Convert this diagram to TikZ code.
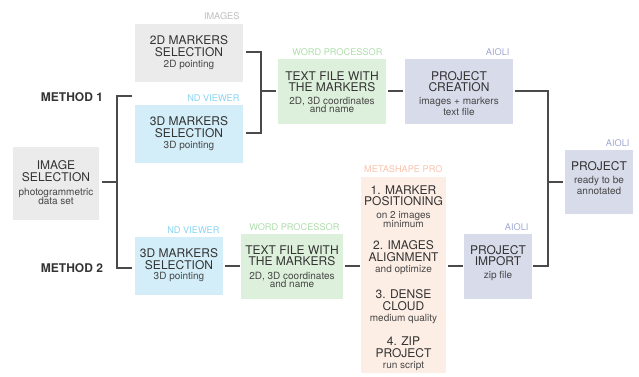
\documentclass[tikz,border=0pt]{standalone}
\usepackage{fontspec}
\setmainfont{TeX Gyre Heros}
\definecolor{boxgray}{HTML}{EBEBEB}
\definecolor{boxblue}{HTML}{D3EEF9}
\definecolor{boxgreen}{HTML}{DDF0DB}
\definecolor{boxlav}{HTML}{D7DBEA}
\definecolor{boxpeach}{HTML}{FDEEE5}
\definecolor{tgray}{HTML}{BDBDBD}
\definecolor{tblue}{HTML}{86D4F2}
\definecolor{tgreen}{HTML}{ADDDAA}
\definecolor{tlav}{HTML}{9EA7D1}
\definecolor{tpeach}{HTML}{F9C3AC}
\definecolor{ink}{HTML}{333333}
\definecolor{wire}{HTML}{4A4A4A}
\begin{document}
\begin{tikzpicture}[x=1pt,y=-1pt,
  box/.style={inner sep=0pt,outer sep=0pt},
  head/.style={font=\fontsize{12}{12}\selectfont,text=ink,align=center},
  sub/.style={font=\fontsize{10}{10}\selectfont,text=ink!90,align=center},
  tool/.style={font=\fontsize{9.2}{9.2}\selectfont,anchor=base east},
  meth/.style={font=\bfseries\fontsize{12}{12}\selectfont,text=ink,anchor=base},
  link/.style={draw=wire,line width=1.2pt}]
\useasboundingbox (0,0) rectangle (639,376);

% boxes
\fill[boxgray]  (13,147) rectangle (99,220);
\fill[boxgray]  (135,24) rectangle (243,82);
\fill[boxblue]  (135,105) rectangle (243,163);
\fill[boxgreen] (278,59) rectangle (386,124);
\fill[boxlav]   (405,59) rectangle (513,124);
\fill[boxlav]   (565,150) rectangle (633,214);
\fill[boxblue]  (135,237) rectangle (223,295);
\fill[boxgreen] (241,234) rectangle (343,299);
\fill[boxpeach] (361,177) rectangle (446,373);
\fill[boxlav]   (464,234) rectangle (532,299);

% tool labels
\node[tool,text=tgray]  (t1) at (243,19.5) {IMAGES};
\node[tool,text=tblue]  (t2) at (243,101.5) {ND VIEWER};
\node[tool,text=tgreen] (t3) at (386,55.5) {WORD PROCESSOR};
\node[tool,text=tlav]   (t4) at (513,55.5) {AIOLI};
\node[tool,text=tlav]   (t5) at (633,146.5) {AIOLI};
\node[tool,text=tblue]  (t6) at (223,233.5) {ND VIEWER};
\node[tool,text=tgreen] (t7) at (343,230.5) {WORD PROCESSOR};
\node[tool,text=tpeach] (t8) at (446,172.5) {METASHAPE PRO};
\node[tool,text=tlav]   (t9) at (532,230.5) {AIOLI};

% method labels
\node[meth] (m1) at (72,101.5) {METHOD 1};
\node[meth] (m2) at (72,272.5) {METHOD 2};

% texts
\node[head] (sel) at (56,171) {IMAGE\\[-0.5pt]SELECTION};
\node[sub]  (sels) at (56,196.5) {photogrammetric\\[-0.3pt]data set};

\node[head] (mk2d) at (189,46) {2D MARKERS\\[-0.5pt]SELECTION};
\node[sub]  (mk2ds) at (189,65) {2D pointing};

\node[head] (mk3a) at (189,127) {3D MARKERS\\[-0.5pt]SELECTION};
\node[sub]  (mk3as) at (189,146) {3D pointing};

\node[head] (txa) at (332,81.5) {TEXT FILE WITH\\[-0.5pt]THE MARKERS};
\node[sub]  (txas) at (332,105) {2D, 3D coordinates\\[-1.2pt]and name};

\node[head] (pc) at (459,81.5) {PROJECT\\[-0.5pt]CREATION};
\node[sub]  (pcs) at (459,106.5) {images + markers\\[0.4pt]text file};

\node[head] (pj) at (599,166) {PROJECT};
\node[sub]  (pjs) at (599,185.5) {ready to be\\[0.2pt]annotated};

\node[head] (mk3b) at (179,259) {3D MARKERS\\[-0.5pt]SELECTION};
\node[sub]  (mk3bs) at (179,277) {3D pointing};

\node[head] (txb) at (292,255.5) {TEXT FILE WITH\\[-0.5pt]THE MARKERS};
\node[sub]  (txbs) at (292,280) {2D, 3D coordinates\\[-1.2pt]and name};

\node[head] (ms1) at (403.5,195.5) {1. MARKER\\[-0.5pt]POSITIONING};
\node[sub]  (ms1s) at (403.5,219.5) {on 2 images\\[-1.5pt]minimum};
\node[head] (ms2) at (403.5,251) {2. IMAGES\\[-0.5pt]ALIGNMENT};
\node[sub]  (ms2s) at (403.5,270) {and optimize};
\node[head] (ms3) at (403.5,300) {3. DENSE\\[-0.5pt]CLOUD};
\node[sub]  (ms3s) at (403.5,319) {medium quality};
\node[head] (ms4) at (403.5,347) {4. ZIP\\[-0.5pt]PROJECT};
\node[sub]  (ms4s) at (403.5,366) {run script};

\node[head] (pi) at (498,255.5) {PROJECT\\[-0.5pt]IMPORT};
\node[sub]  (pis) at (498,276) {zip file};

% connector junctions
\coordinate (a1) at (102,182);
\coordinate (a2) at (117,182);
\coordinate (a3) at (117,96);
\coordinate (a4) at (132,96);
\coordinate (a5) at (117,268);
\coordinate (a6) at (132,268);

\coordinate (b1) at (246,52);
\coordinate (b2) at (261,52);
\coordinate (b3) at (246,133);
\coordinate (b4) at (261,133);
\coordinate (b5) at (261,91);
\coordinate (b6) at (276,91);

\coordinate (c1) at (388,91);
\coordinate (c2) at (403,91);

\coordinate (d1) at (515,91);
\coordinate (d2) at (548,91);
\coordinate (d3) at (548,266);
\coordinate (d4) at (533,266);
\coordinate (d5) at (548,182);
\coordinate (d6) at (563,182);

\coordinate (e1) at (225,266);
\coordinate (e2) at (240,266);
\coordinate (e3) at (345,266);
\coordinate (e4) at (360,266);
\coordinate (e5) at (448,266);
\coordinate (e6) at (463,266);

% connectors
\draw[link] (a1) -- (a2);
\draw[link] (a4) -- (a3) -- (a5) -- (a6);
\draw[link] (b1) -- (b2) -- (b4) -- (b3);
\draw[link] (b5) -- (b6);
\draw[link] (c1) -- (c2);
\draw[link] (d1) -- (d2) -- (d3) -- (d4);
\draw[link] (d5) -- (d6);
\draw[link] (e1) -- (e2);
\draw[link] (e3) -- (e4);
\draw[link] (e5) -- (e6);
\end{tikzpicture}
\end{document}
